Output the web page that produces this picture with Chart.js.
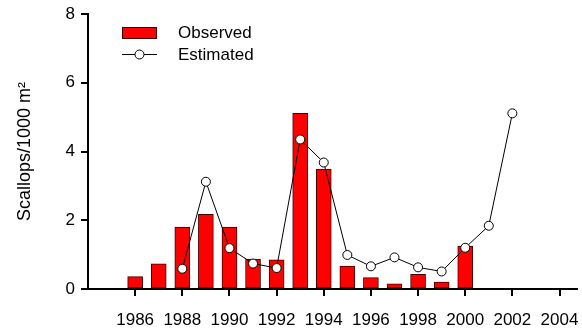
<!DOCTYPE html>
<html>
<head>
<meta charset="utf-8">
<script src="https://cdn.jsdelivr.net/npm/chart.js@4/dist/chart.umd.min.js"></script>
<style>
html,body{margin:0;padding:0;background:#fff;}
#wrap{width:582px;height:331px;position:relative;}
</style>
</head>
<body>
<div id="wrap"><canvas id="c" width="582" height="331"></canvas></div>
<script>
const observedYears = [1986,1987,1988,1989,1990,1991,1992,1993,1994,1995,1996,1997,1998,1999,2000];
const observedValues = [0.36,0.73,1.80,2.17,1.80,0.87,0.85,5.11,3.49,0.67,0.33,0.15,0.43,0.20,1.25];
const estimatedYears = [1988,1989,1990,1991,1992,1993,1994,1995,1996,1997,1998,1999,2000,2001,2002];
const estimatedValues = [0.59,3.12,1.19,0.74,0.61,4.35,3.68,0.99,0.66,0.92,0.63,0.51,1.20,1.84,5.11];
const xTickYears = [1986,1988,1990,1992,1994,1996,1998,2000,2002,2004];
const yTickValues = [0,2,4,6,8];
const seriesNames = ['Observed','Estimated'];
const yTitle = 'Scallops/1000 m\u00B2';

const FONT = '"Liberation Sans", Arial, sans-serif';

const legendPlugin = {
  id: 'customLegend',
  afterDraw(chart) {
    const ctx = chart.ctx;
    ctx.save();
    ctx.fillStyle = '#ff0000';
    ctx.fillRect(122, 27, 35, 12);
    ctx.strokeStyle = '#400000';
    ctx.lineWidth = 1;
    ctx.strokeRect(122.5, 27.5, 34, 11);
    ctx.strokeStyle = '#000';
    ctx.beginPath();
    ctx.moveTo(122, 54.5);
    ctx.lineTo(157, 54.5);
    ctx.stroke();
    ctx.beginPath();
    ctx.arc(139.5, 54.5, 4.5, 0, Math.PI * 2);
    ctx.fillStyle = '#fff';
    ctx.fill();
    ctx.stroke();
    ctx.fillStyle = '#000';
    ctx.font = '17px ' + FONT;
    ctx.textBaseline = 'middle';
    ctx.textAlign = 'left';
    ctx.fillText(seriesNames[0], 178, 33);
    ctx.fillText(seriesNames[1], 178, 55);
    ctx.restore();
  }
};

new Chart(document.getElementById('c'), {
  type: 'bar',
  data: {
    datasets: [
      {
        type: 'line',
        label: seriesNames[1],
        data: estimatedYears.map((y, i) => ({x: y, y: estimatedValues[i]})),
        borderColor: '#000',
        borderWidth: 1,
        pointRadius: 4.5,
        pointBackgroundColor: '#fff',
        pointBorderColor: '#000',
        pointBorderWidth: 1,
        tension: 0,
        order: 0
      },
      {
        type: 'bar',
        label: seriesNames[0],
        data: observedYears.map((y, i) => ({x: y, y: observedValues[i]})),
        backgroundColor: '#ff0000',
        borderColor: '#400000',
        borderWidth: 1,
        borderSkipped: false,
        barThickness: 15,
        order: 1
      }
    ]
  },
  options: {
    responsive: false,
    animation: false,
    events: [],
    layout: {padding: {top: 14, right: 0, left: 0, bottom: 0}},
    plugins: {legend: {display: false}, tooltip: {enabled: false}},
    scales: {
      x: {
        type: 'linear',
        offset: false,
        min: 1984,
        max: 2004.72,
        afterBuildTicks(scale) { scale.ticks = xTickYears.map(v => ({value: v})); },
        afterFit(scale) { scale.height = 42; scale.paddingRight = 0; scale.paddingLeft = 0; },
        grid: {offset: false, drawOnChartArea: false, drawTicks: true, tickLength: 7, color: '#000', lineWidth: 2},
        border: {display: true, color: '#000', width: 2},
        ticks: {color: '#000', font: {family: FONT, size: 17}, padding: 14, maxRotation: 0, autoSkip: false,
                callback: v => String(v)}
      },
      y: {
        min: 0,
        max: 8,
        afterBuildTicks(scale) { scale.ticks = yTickValues.map(v => ({value: v})); },
        afterFit(scale) { scale.width = 88; scale.paddingTop = 0; scale.paddingBottom = 0; },
        grid: {drawOnChartArea: false, drawTicks: true, tickLength: 7, color: '#000', lineWidth: 2},
        border: {display: true, color: '#000', width: 2},
        ticks: {color: '#000', font: {family: FONT, size: 17}, padding: 6},
        title: {display: true, text: yTitle, color: '#000', font: {family: FONT, size: 18}, padding: {top: 14, bottom: 0}}
      }
    }
  },
  plugins: [legendPlugin]
});
</script>
</body>
</html>
